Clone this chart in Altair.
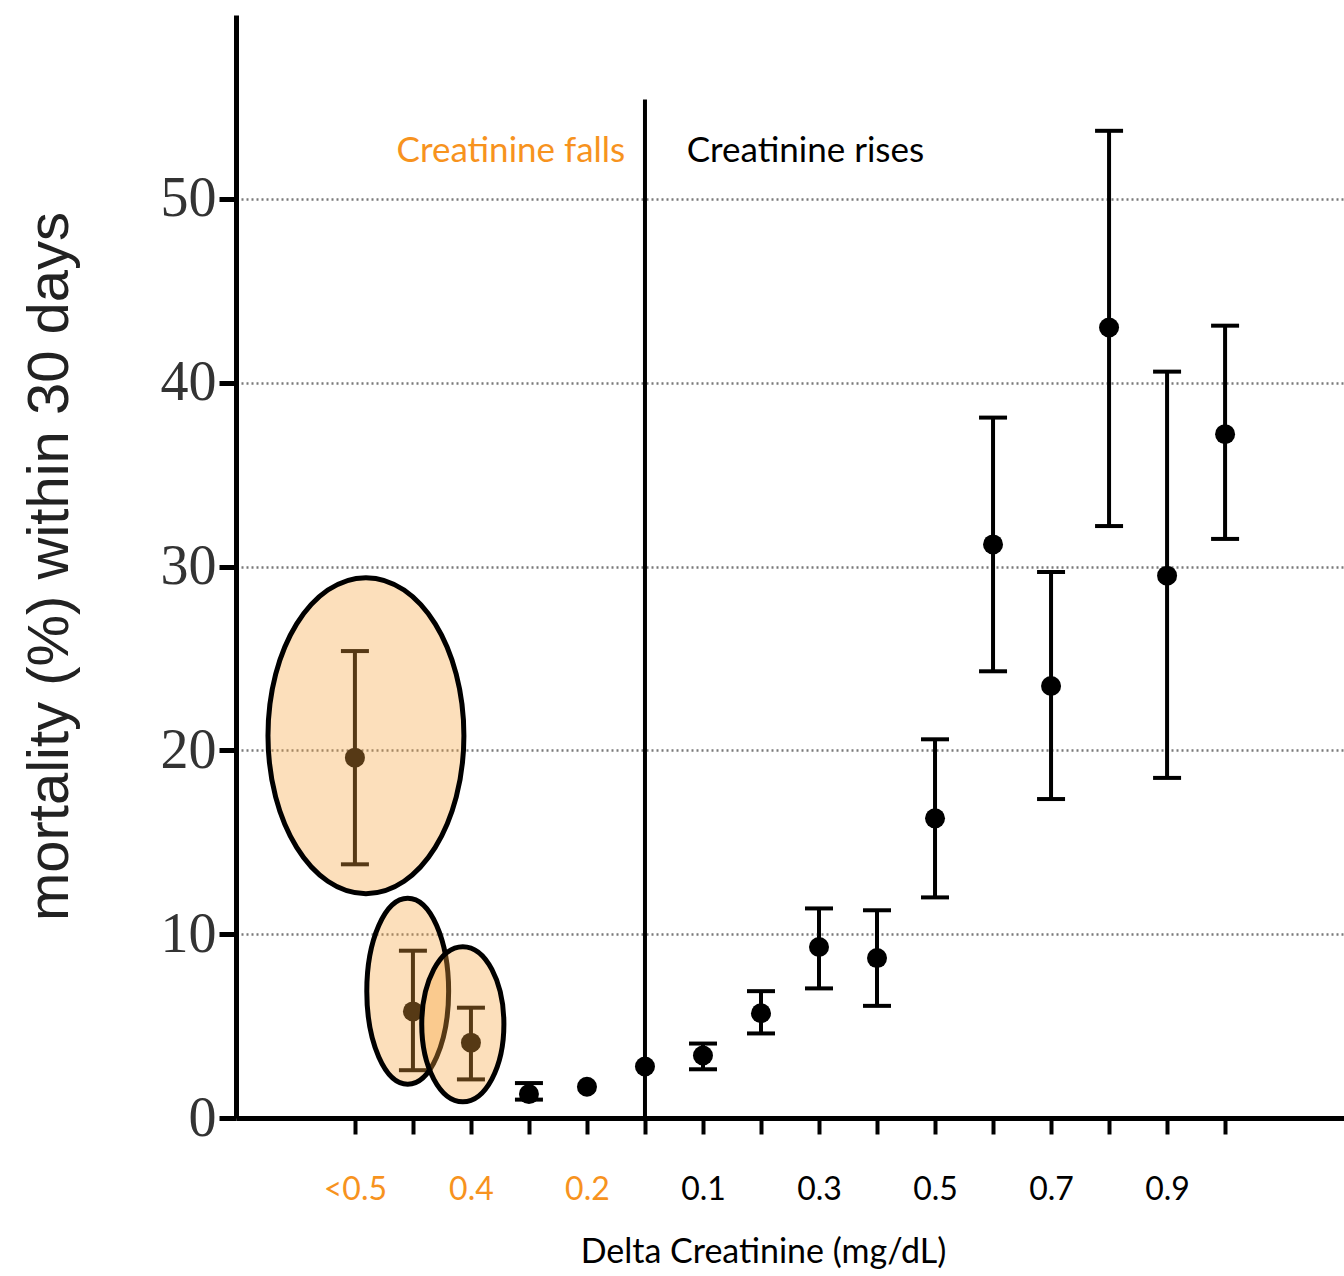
import json
import altair as alt
import pandas as pd

# ---- data ----
positions = list(range(1, 17))
tick_labels = ["<0.5", "", "0.4", "", "0.2", "", "0.1", "", "0.3", "", "0.5", "", "0.7", "", "0.9", ""]
mortality = [19.6, 5.8, 4.1, 1.3, 1.7, 2.8, 3.4, 5.7, 9.3, 8.7, 16.3, 31.2, 23.5, 43.0, 29.5, 37.2]
ci_low = [13.8, 2.6, 2.1, 1.0, None, None, 2.65, 4.6, 7.05, 6.1, 12.0, 24.3, 17.35, 32.2, 18.5, 31.5]
ci_high = [25.4, 9.1, 6.0, 1.9, None, None, 4.05, 6.9, 11.4, 11.3, 20.6, 38.1, 29.7, 53.7, 40.6, 43.1]

# annotation ellipses (centre in data units)
ell_id = ["e1", "e2", "e3"]
ell_x = [1.19, 1.91, 2.86]
ell_y = [20.8, 6.9, 5.1]

ORANGE = "#F7931E"
FONT = "Lato"

df = pd.DataFrame({"pos": positions, "m": mortality, "lo": ci_low, "hi": ci_high})
df_err = df.dropna()
ell = pd.DataFrame({"eid": ell_id, "x": ell_x, "y": ell_y})
ell_paths = [
    "M -0.62 0 A 0.62 1 0 1 0 0.62 0 A 0.62 1 0 1 0 -0.62 0 Z",
    "M -0.44 0 A 0.44 1 0 1 0 0.44 0 A 0.44 1 0 1 0 -0.44 0 Z",
    "M -0.53 0 A 0.53 1 0 1 0 0.53 0 A 0.53 1 0 1 0 -0.53 0 Z",
]
ell_sizes = [316 ** 2, 186 ** 2, 155 ** 2]
ell["size"] = ell_sizes

xscale = alt.Scale(domain=[-1.05, 18.05], nice=False, zero=False)
yscale = alt.Scale(domain=[0, 60], nice=False)

x_axis = alt.Axis(
    values=positions,
    labelExpr=f"{json.dumps(tick_labels)}[datum.value - 1]",
    labelColor=alt.ExprRef(expr=f"datum.value <= 5 ? '{ORANGE}' : 'black'"),
    labelFont=FONT, labelFontSize=32, labelPadding=40,
    tickColor="black", tickWidth=4, tickSize=16,
    domainColor="black", domainWidth=5,
    grid=False, labelFlush=False, labelOverlap=False,
    title="Delta Creatinine (mg/dL)", titleFont=FONT, titleFontSize=34,
    titleFontWeight="normal", titleColor="black",
    titleX=527, titleY=134, titleAlign="center", titleBaseline="middle",
)
y_axis = alt.Axis(
    values=[0, 10, 20, 30, 40, 50],
    labelFont="Liberation Serif", labelFontSize=56, labelColor="#333333", labelPadding=3,
    tickColor="black", tickWidth=5, tickSize=17,
    domainColor="black", domainWidth=5,
    grid=True, gridColor="#7a7a7a", gridDash=[2, 3], gridWidth=2.5,
    title="mortality (%) within 30 days", titleFont="Liberation Sans", titleFontSize=58,
    titleFontWeight="normal", titleColor="#222222",
    titleX=-186, titleY=551, titleAngle=270, titleAlign="center", titleBaseline="middle",
)

base = alt.Chart(df)
axes_layer = base.mark_point(opacity=0).encode(
    x=alt.X("pos:Q", scale=xscale, axis=x_axis),
    y=alt.Y("m:Q", scale=yscale, axis=y_axis),
)
bars = alt.Chart(df_err).mark_rule(color="black", strokeWidth=4).encode(
    x=alt.X("pos:Q", scale=xscale), y=alt.Y("lo:Q", scale=yscale), y2="hi:Q"
)
cap_lo = alt.Chart(df_err).mark_tick(color="black", orient="horizontal", size=28, thickness=4, opacity=1).encode(
    x=alt.X("pos:Q", scale=xscale), y=alt.Y("lo:Q", scale=yscale)
)
cap_hi = alt.Chart(df_err).mark_tick(color="black", orient="horizontal", size=28, thickness=4, opacity=1).encode(
    x=alt.X("pos:Q", scale=xscale), y=alt.Y("hi:Q", scale=yscale)
)
points = base.mark_circle(color="black", size=400, opacity=1).encode(
    x=alt.X("pos:Q", scale=xscale), y=alt.Y("m:Q", scale=yscale)
)
ellipses = alt.Chart(ell).mark_point(
    filled=True, fill="#F7A23B", fillOpacity=0.35, stroke="black", strokeWidth=5, strokeOpacity=1, opacity=1
).encode(
    x=alt.X("x:Q", scale=xscale),
    y=alt.Y("y:Q", scale=yscale),
    shape=alt.Shape("eid:N", scale=alt.Scale(domain=ell_id, range=ell_paths), legend=None),
    size=alt.Size("size:Q", scale=None),
)

divider = alt.Chart(pd.DataFrame({"x": [6], "y": [0], "y2": [55.4]})).mark_rule(
    color="black", strokeWidth=4
).encode(x=alt.X("x:Q", scale=xscale), y=alt.Y("y:Q", scale=yscale), y2="y2:Q")

txt = pd.DataFrame({
    "t": ["Creatinine falls", "Creatinine rises"],
    "x": [5.66, 6.72],
    "y": [52.6, 52.6],
})
t_falls = alt.Chart(txt.iloc[[0]]).mark_text(
    align="right", baseline="middle", font=FONT, fontSize=35, color=ORANGE
).encode(x=alt.X("x:Q", scale=xscale), y=alt.Y("y:Q", scale=yscale), text="t:N")
t_rises = alt.Chart(txt.iloc[[1]]).mark_text(
    align="left", baseline="middle", font=FONT, fontSize=35, color="black"
).encode(x=alt.X("x:Q", scale=xscale), y=alt.Y("y:Q", scale=yscale), text="t:N")

chart = alt.layer(
    axes_layer, bars, cap_lo, cap_hi, points, ellipses, divider, t_falls, t_rises
).properties(
    width=1108, height=1103,
    padding={"left": 236, "top": 15, "right": 0, "bottom": 158},
    autosize=alt.AutoSizeParams(type="none"),
    background="white",
).configure_view(stroke=None)

chart.save("out.html", embed_options={"renderer": "svg", "actions": False})
